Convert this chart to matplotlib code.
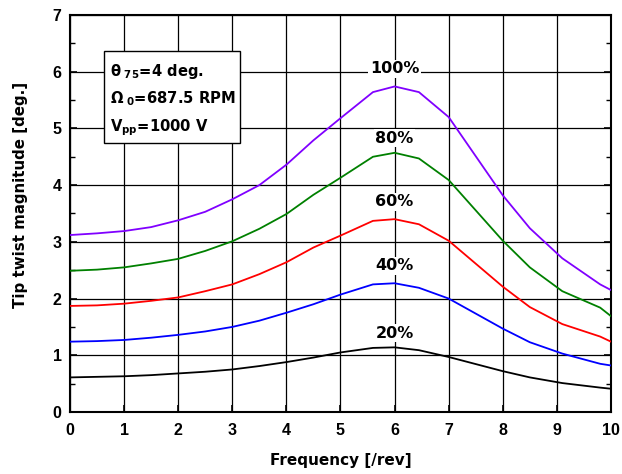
import matplotlib
matplotlib.use("Agg")
import matplotlib.pyplot as plt
from matplotlib.patches import Rectangle
from matplotlib.ticker import MultipleLocator

# frequency points [/rev]
freq = [0, 0.5, 1, 1.5, 2, 2.5, 3, 3.5, 4, 4.5, 5, 5.6, 6, 6.45, 7, 8, 8.5, 9.1, 9.8, 10]

# tip twist magnitude [deg.] for each excitation level
tw_100 = [3.12, 3.15, 3.19, 3.26, 3.38, 3.53, 3.75, 4.00, 4.36, 4.79, 5.18,
          5.64, 5.74, 5.64, 5.20, 3.82, 3.24, 2.71, 2.25, 2.15]
tw_80 = [2.49, 2.51, 2.55, 2.62, 2.70, 2.84, 3.01, 3.23, 3.49, 3.83, 4.13,
         4.50, 4.57, 4.47, 4.09, 3.02, 2.55, 2.13, 1.84, 1.69]
tw_60 = [1.87, 1.88, 1.91, 1.96, 2.02, 2.13, 2.25, 2.43, 2.64, 2.90, 3.11,
         3.37, 3.40, 3.31, 3.02, 2.21, 1.85, 1.55, 1.33, 1.24]
tw_40 = [1.24, 1.25, 1.27, 1.31, 1.36, 1.42, 1.50, 1.61, 1.75, 1.90, 2.07,
         2.25, 2.27, 2.19, 2.00, 1.47, 1.23, 1.03, 0.85, 0.82]
tw_20 = [0.61, 0.62, 0.63, 0.65, 0.68, 0.71, 0.75, 0.81, 0.88, 0.96, 1.05,
         1.13, 1.14, 1.09, 0.97, 0.72, 0.61, 0.51, 0.43, 0.41]

series = [
    ("100%", tw_100, "#8000ff", 6.05),
    ("80%", tw_80, "#008000", 4.83),
    ("60%", tw_60, "#ff0000", 3.71),
    ("40%", tw_40, "#0000ff", 2.58),
    ("20%", tw_20, "#000000", 1.39),
]

info_lines = [
    r"$\mathbf{\theta}_{\ \mathbf{75}}$=4 deg.",
    r"$\mathbf{\Omega}_{\ \mathbf{0}}$=687.5 RPM",
    r"$\mathbf{V}_{\mathbf{pp}}$=1000 V",
]

plt.rcParams.update({
    "font.family": "DejaVu Sans",
    "font.weight": "bold",
    "mathtext.fontset": "dejavusans",
})

fig = plt.figure(figsize=(6.22, 4.74), dpi=100)
ax = fig.add_axes([0.1125, 0.1308, 0.8698, 0.8376])

ax.set_xlim(0, 10)
ax.set_ylim(0, 7)
ax.xaxis.set_major_locator(MultipleLocator(1))
ax.yaxis.set_major_locator(MultipleLocator(1))
ax.yaxis.set_minor_locator(MultipleLocator(0.5))
ax.grid(True, which="major", color="black", linewidth=0.9, zorder=0)
ax.set_axisbelow(True)

for sp in ax.spines.values():
    sp.set_linewidth(1.5)

ax.tick_params(which="both", direction="in", right=True, top=False,
               labelsize=11.5, labelfontfamily="Liberation Sans")
ax.tick_params(which="major", length=5, width=1.2)
ax.tick_params(which="minor", length=3.5, width=1.0)
ax.tick_params(axis="y", which="major", pad=6)
ax.tick_params(axis="x", which="major", pad=8)

for name, vals, col, ly in series:
    ax.plot(freq, vals, color=col, linewidth=1.3, zorder=3)
    ax.text(6, ly, name, ha="center", va="center", fontsize=11.5,
            fontweight="bold", zorder=4,
            bbox=dict(facecolor="white", edgecolor="none", pad=1.0))

# parameter box
ax.add_patch(Rectangle((0.63, 4.74), 2.52, 1.63, facecolor="white",
                       edgecolor="black", linewidth=1.0, zorder=5))
for i, line in enumerate(info_lines):
    ax.text(0.74, 5.92 - i * 0.485, line, ha="left", va="baseline",
            fontsize=10.6, fontweight="bold", zorder=6)

ax.set_xlabel("Frequency [/rev]", fontsize=11, fontweight="bold", va="top")
ax.set_ylabel("Tip twist magnitude [deg.]", fontsize=10.8, fontweight="bold")
ax.xaxis.set_label_coords(0.5, -0.103)
ax.yaxis.set_label_coords(-0.078, 0.547)

fig.savefig("out.png", dpi=100, facecolor="white")
